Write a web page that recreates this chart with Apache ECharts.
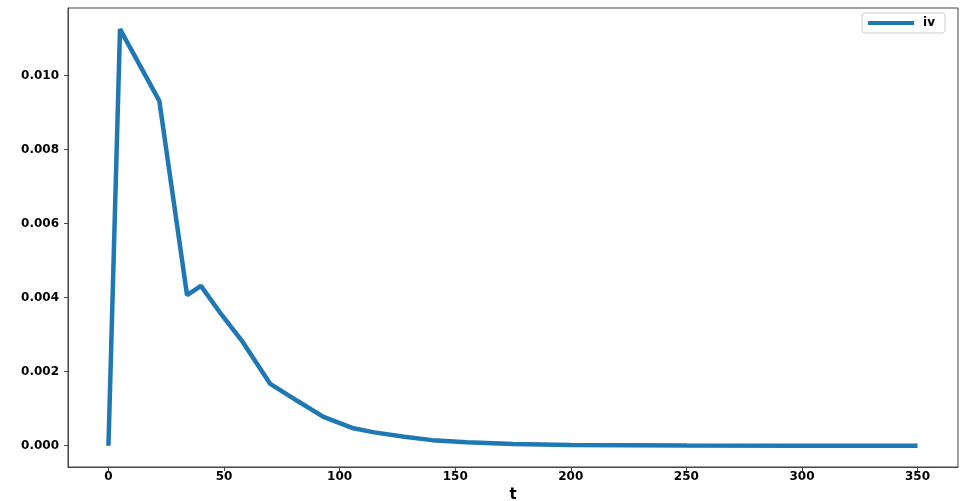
<!DOCTYPE html>
<html>
<head>
<meta charset="utf-8">
<script src="https://cdn.jsdelivr.net/npm/echarts@6/dist/echarts.min.js"></script>
<style>html,body{margin:0;padding:0;background:#fff}#c{width:960px;height:501px}</style>
</head>
<body>
<div id="c"></div>
<script>
var tValues = [0, 5, 22, 34, 40, 48, 58, 70, 82, 93, 106, 115, 128, 140, 155, 175, 200, 250, 300, 350];
var ivValues = [0, 0.01126, 0.00932, 0.00407, 0.00432, 0.00362, 0.00281, 0.00167, 0.00120, 0.00078, 0.00047, 0.00036, 0.00024, 0.00015, 0.00009, 0.000045, 0.00002, 0.000004, 0.000001, 0];
var xTicks = [0, 50, 100, 150, 200, 250, 300, 350];
var yTicks = [0, 0.002, 0.004, 0.006, 0.008, 0.010];
var seriesName = 'iv';
var xName = 't';

var font = 'DejaVu Sans';
var chart = echarts.init(document.getElementById('c'));
chart.setOption({
  animation: false,
  grid: {left: 68, right: 2, top: 8, bottom: 34, outerBoundsMode: 'none', show: true, borderColor: '#444', borderWidth: 1},
  legend: {
    right: 15, top: 13, data: [seriesName],
    icon: 'rect', itemWidth: 46, itemHeight: 4, itemGap: 0,
    borderColor: '#ccc', borderWidth: 1, borderRadius: 3, padding: [4, 10, 4, 6],
    textStyle: {fontFamily: font, fontWeight: 'bold', fontSize: 12, color: '#000', padding: [0, 0, 0, 4]}
  },
  xAxis: {
    type: 'value', min: -17.5, max: 367.5,
    name: xName, nameLocation: 'middle', nameGap: 18,
    nameTextStyle: {fontFamily: font, fontWeight: 'bold', fontSize: 15, color: '#000'},
    splitLine: {show: false},
    axisLine: {show: true, onZero: false, lineStyle: {color: '#444'}},
    axisTick: {show: true, length: 4, customValues: xTicks, lineStyle: {color: '#444'}},
    axisLabel: {customValues: xTicks, fontFamily: font, fontWeight: 'bold', fontSize: 12, color: '#000', margin: 4}
  },
  yAxis: {
    type: 'value', min: -0.000576, max: 0.01183,
    splitLine: {show: false},
    axisLine: {show: true, onZero: false, lineStyle: {color: '#444'}},
    axisTick: {show: true, length: 4, customValues: yTicks, lineStyle: {color: '#444'}},
    axisLabel: {customValues: yTicks, fontFamily: font, fontWeight: 'bold', fontSize: 12, color: '#000', margin: 9,
      formatter: function (v) { return v.toFixed(3); }}
  },
  series: [{
    name: seriesName, type: 'line', showSymbol: false,
    data: tValues.map(function (t, i) { return [t, ivValues[i]]; }),
    lineStyle: {color: '#1f77b4', width: 4.5},
    itemStyle: {color: '#1f77b4'}
  }]
});
</script>
</body>
</html>
